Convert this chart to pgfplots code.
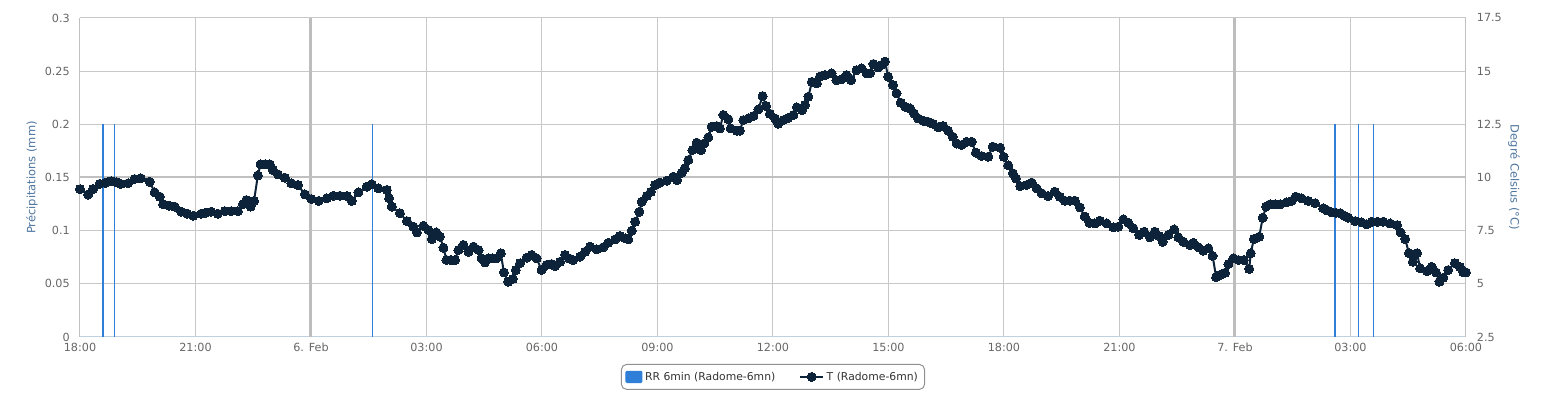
\documentclass[border=0pt]{standalone}
\usepackage{pgfplots}
\usepackage{pgfplotstable}
\pgfplotsset{compat=1.18}
\usepackage{fontspec}
\setmainfont{DejaVu Sans}
\definecolor{hcblue}{HTML}{2F7ED8}
\definecolor{hcnavy}{HTML}{0D233A}
\definecolor{gridc}{HTML}{C8C8C8}
\definecolor{midc}{HTML}{BDBDBD}
\definecolor{axisc}{HTML}{C0C0C0}
\definecolor{xaxisc}{HTML}{C0D0E0}
\definecolor{ticklab}{HTML}{666666}
\definecolor{titlec}{HTML}{4D759E}
\definecolor{legtext}{HTML}{333333}
\definecolor{legborder}{HTML}{909090}

\pgfplotstableread{
h T
0.00 9.45
0.21 9.20
0.34 9.46
0.51 9.70
0.66 9.75
0.81 9.83
0.94 9.78
1.06 9.70
1.25 9.73
1.42 9.93
1.58 9.96
1.81 9.80
1.94 9.30
2.07 9.10
2.16 8.74
2.31 8.68
2.46 8.63
2.63 8.39
2.78 8.30
2.94 8.20
3.15 8.30
3.28 8.35
3.41 8.39
3.58 8.30
3.76 8.42
3.93 8.42
4.10 8.42
4.23 8.74
4.32 8.94
4.43 8.63
4.52 8.90
4.62 10.10
4.69 10.62
4.81 10.62
4.93 10.62
5.01 10.35
5.14 10.15
5.32 9.99
5.49 9.73
5.66 9.65
5.84 9.21
6.01 8.99
6.20 8.90
6.41 9.02
6.58 9.14
6.75 9.14
6.93 9.13
7.06 8.90
7.23 9.30
7.45 9.57
7.58 9.68
7.75 9.49
7.97 9.41
8.03 9.02
8.10 8.63
8.31 8.32
8.49 7.95
8.66 7.69
8.75 7.42
8.92 7.73
9.05 7.53
9.14 7.11
9.25 7.42
9.35 7.22
9.44 6.70
9.52 6.12
9.63 6.12
9.74 6.12
9.83 6.59
9.96 6.83
10.09 6.51
10.22 6.75
10.35 6.59
10.43 6.20
10.52 6.01
10.61 6.20
10.71 6.20
10.82 6.20
10.93 6.44
11.01 5.54
11.12 5.10
11.24 5.23
11.32 5.65
11.43 5.97
11.60 6.23
11.73 6.36
11.86 6.20
11.99 5.65
12.12 5.89
12.25 5.93
12.34 5.84
12.47 6.04
12.60 6.36
12.70 6.20
12.81 6.12
12.99 6.28
13.12 6.51
13.25 6.75
13.42 6.62
13.59 6.72
13.72 6.93
13.90 7.09
14.03 7.25
14.16 7.14
14.24 7.09
14.33 7.50
14.42 7.92
14.53 8.39
14.59 8.86
14.72 9.13
14.83 9.33
14.94 9.65
15.06 9.76
15.24 9.85
15.41 10.04
15.51 9.88
15.63 10.23
15.71 10.43
15.80 10.82
15.91 11.29
16.02 11.64
16.13 11.29
16.22 11.60
16.32 11.89
16.41 12.39
16.54 12.42
16.62 12.31
16.71 12.94
16.84 12.74
16.90 12.31
17.06 12.20
17.14 12.20
17.23 12.70
17.36 12.78
17.49 12.89
17.62 13.20
17.73 13.83
17.82 13.36
17.92 13.00
18.05 12.78
18.14 12.53
18.27 12.70
18.40 12.81
18.53 12.94
18.62 13.30
18.75 13.17
18.83 13.41
18.92 13.80
19.01 14.50
19.14 14.43
19.22 14.74
19.35 14.82
19.52 14.90
19.65 14.58
19.78 14.62
19.91 14.82
20.03 14.58
20.17 15.05
20.30 15.13
20.43 14.90
20.52 14.90
20.61 15.34
20.73 15.18
20.82 15.29
20.91 15.45
20.99 14.74
21.12 14.35
21.21 13.96
21.32 13.52
21.43 13.33
21.56 13.25
21.66 13.02
21.77 12.78
21.90 12.67
22.03 12.62
22.16 12.52
22.29 12.36
22.42 12.42
22.55 12.20
22.67 11.92
22.77 11.60
22.90 11.53
23.03 11.68
23.16 11.68
23.27 11.17
23.42 11.01
23.59 10.98
23.71 11.45
23.90 11.40
23.99 10.98
24.11 10.57
24.23 10.20
24.31 9.96
24.42 9.60
24.59 9.65
24.72 9.76
24.85 9.49
24.98 9.26
25.15 9.13
25.32 9.33
25.45 9.10
25.58 8.91
25.71 8.91
25.84 8.91
25.97 8.60
26.10 8.16
26.22 7.87
26.36 7.84
26.49 7.97
26.67 7.84
26.84 7.66
26.97 7.69
27.10 8.03
27.23 7.87
27.36 7.61
27.51 7.30
27.64 7.45
27.79 7.19
27.92 7.45
28.03 7.25
28.12 6.98
28.27 7.30
28.42 7.56
28.53 7.19
28.66 6.98
28.83 6.83
28.92 6.93
29.05 6.72
29.18 6.56
29.31 6.67
29.42 6.31
29.51 5.31
29.61 5.42
29.74 5.52
29.83 5.93
29.96 6.20
30.09 6.12
30.23 6.12
30.37 5.70
30.41 6.44
30.49 7.11
30.63 7.22
30.72 8.11
30.81 8.63
30.91 8.74
31.04 8.74
31.17 8.74
31.34 8.83
31.47 8.90
31.58 9.10
31.73 9.02
31.90 8.90
32.08 8.79
32.29 8.55
32.40 8.45
32.51 8.36
32.62 8.34
32.73 8.32
32.84 8.20
32.94 8.11
33.12 7.95
33.29 7.89
33.42 7.80
33.55 7.92
33.70 7.92
33.85 7.92
34.03 7.84
34.21 7.76
34.30 7.42
34.42 7.11
34.52 6.44
34.62 6.04
34.73 6.44
34.81 5.73
34.99 5.60
35.11 5.80
35.22 5.54
35.31 5.10
35.41 5.29
35.54 5.65
35.71 5.97
35.84 5.80
35.93 5.54
36.00 5.54
}\tdata

\pgfplotsset{
  hcbase/.style={
    scale only axis, width=1039.5pt, height=239.25pt,
    xmin=0, xmax=36,
    axis line style={-},
    tick style={draw=none},
    ticklabel style={font=\fontsize{8.4}{10}\selectfont, text=ticklab},
    label style={font=\fontsize{8.6}{10}\selectfont, text=titlec},
  }
}

\begin{document}
\begin{tikzpicture}
\useasboundingbox (-60pt,-62.25pt) rectangle (1101pt,252.75pt);
\begin{axis}[hcbase,
  ymin=0, ymax=0.3,
  xtick={0,3,6,9,12,15,18,21,24,27,30,33,36},
  xticklabels={18:00,21:00,6. Feb,03:00,06:00,09:00,12:00,15:00,18:00,21:00,7. Feb,03:00,06:00},
  xticklabel style={anchor=north, inner sep=0pt, yshift=-4.5pt},
  ytick={0,0.05,0.1,0.15,0.2,0.25,0.3},
  yticklabels={0,0.05,0.1,0.15,0.2,0.25,0.3},
  yticklabel style={anchor=east, inner sep=0pt, xshift=-7.5pt},
  xmajorgrids, ymajorgrids,
  grid style={gridc, line width=0.75pt},
  extra y ticks={0.15}, extra y tick labels={},
  extra y tick style={grid style={axisc, line width=1.5pt}},
  extra x ticks={6,30}, extra x tick labels={},
  extra x tick style={grid style={midc, line width=2.25pt}},
  axis x line*=bottom, axis y line*=left,
  x axis line style={xaxisc, line width=0.75pt},
  y axis line style={axisc, line width=0.75pt},
  ylabel={Précipitations (mm)},
  ylabel style={at={(axis description cs:-0.0346,0.5)}, anchor=center},
]
\addplot[ycomb, draw=hcblue, line width=0.9pt, mark=none] coordinates {
  (0.6,0.2) (0.9,0.2) (7.6,0.2) (32.6,0.2) (33.2,0.2) (33.6,0.2)
};
\end{axis}
\begin{axis}[hcbase,
  ymin=2.5, ymax=17.5,
  axis x line=none, axis y line*=right,
  y axis line style={axisc, line width=0.75pt},
  ytick={2.5,5,7.5,10,12.5,15,17.5},
  yticklabels={2.5,5,7.5,10,12.5,15,17.5},
  yticklabel style={anchor=west, inner sep=0pt, xshift=8pt},
  ylabel={Degré Celsius (°C)},
  ylabel style={at={(axis description cs:1.0346,0.5)}, anchor=center, rotate=180},
  clip=false,
  legend columns=2,
  legend style={at={(0.5,-0.0846)}, anchor=north, draw=legborder, line width=0.75pt,
    rounded corners=3.75pt, fill=white, text=legtext,
    font=\fontsize{8.1}{10}\selectfont,
    inner xsep=3pt, inner ysep=3.5pt,
    /tikz/every even column/.append style={column sep=16pt}},
]
\addlegendimage{legend image code/.code={\fill[hcblue, rounded corners=0.8pt] (0pt,-4.2pt) rectangle (12pt,4.2pt);}}
\addlegendentry{RR 6min (Radome-6mn)}
\addplot[hcnavy, line width=1.5pt, mark=*, mark size=3.4pt,
  mark options={fill=hcnavy, draw=hcnavy, line width=0pt}] table[x=h, y=T]{\tdata};
\addlegendentry{T (Radome-6mn)}
\end{axis}
\end{tikzpicture}
\end{document}
